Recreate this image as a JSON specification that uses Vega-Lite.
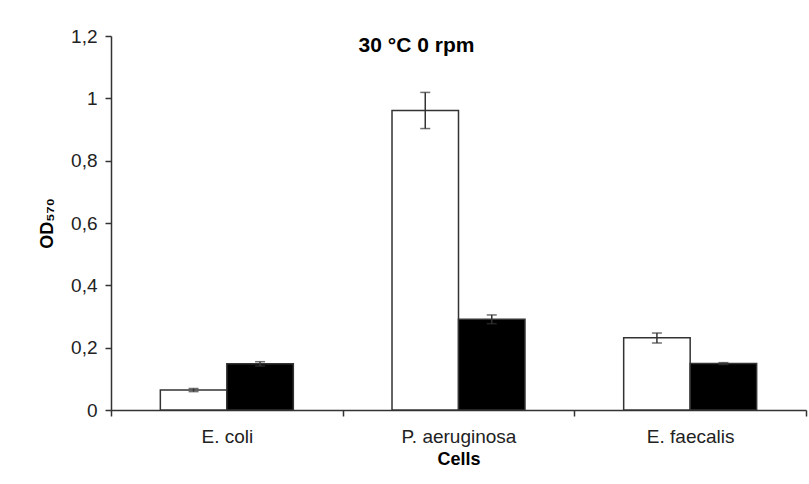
{
  "$schema": "https://vega.github.io/schema/vega-lite/v6.json",
  "width": 695,
  "height": 374,
  "autosize": "none",
  "padding": {"left": 111, "top": 36, "right": 3, "bottom": 74},
  "background": "white",
  "config": {
    "font": "Liberation Sans",
    "view": {"stroke": null}
  },
  "title": {
    "text": "30 °C 0 rpm",
    "font": "Liberation Sans",
    "fontSize": 21,
    "fontWeight": "bold",
    "color": "#000000",
    "anchor": "middle",
    "baseline": "alphabetic",
    "offset": 0,
    "dx": -42,
    "dy": 46
  },
  "data": {
    "values": [
      {"cells": "E. coli", "group": "A", "od": 0.064, "lo": 0.059, "hi": 0.069},
      {"cells": "E. coli", "group": "B", "od": 0.148, "lo": 0.141, "hi": 0.155},
      {"cells": "P. aeruginosa", "group": "A", "od": 0.961, "lo": 0.903, "hi": 1.019},
      {"cells": "P. aeruginosa", "group": "B", "od": 0.291, "lo": 0.277, "hi": 0.305},
      {"cells": "E. faecalis", "group": "A", "od": 0.232, "lo": 0.215, "hi": 0.247},
      {"cells": "E. faecalis", "group": "B", "od": 0.149, "lo": 0.146, "hi": 0.152}
    ]
  },
  "encoding": {
    "x": {
      "field": "cells",
      "type": "nominal",
      "sort": ["E. coli", "P. aeruginosa", "E. faecalis"],
      "scale": {"paddingInner": 0, "paddingOuter": 0},
      "axis": {
        "title": "Cells",
        "titleFontSize": 18,
        "titleFontWeight": "bold",
        "titleColor": "#000000",
        "titlePadding": 4,
        "labelAngle": 0,
        "labelFontSize": 19,
        "labelColor": "#222222",
        "labelPadding": 11,
        "tickBand": "extent",
        "tickSize": 6,
        "tickColor": "#333333",
        "tickWidth": 1.5,
        "domainColor": "#333333",
        "domainWidth": 1.5
      }
    },
    "xOffset": {
      "field": "group",
      "type": "nominal",
      "scale": {"paddingInner": 0, "paddingOuter": 0.742}
    }
  },
  "layer": [
    {
      "mark": {"type": "bar", "stroke": "#333333", "strokeWidth": 1.5},
      "encoding": {
        "y": {
          "field": "od",
          "type": "quantitative",
          "scale": {"domain": [0, 1.2], "nice": false},
          "axis": {
            "title": "OD₅₇₀",
            "titleFontSize": 18,
            "titleFontWeight": "bold",
            "titleColor": "#000000",
            "titlePadding": 14,
            "values": [0, 0.2, 0.4, 0.6, 0.8, 1, 1.2],
            "labelExpr": "replace(toString(datum.value), '.', ',')",
            "labelFontSize": 19,
            "labelColor": "#222222",
            "labelPadding": 8,
            "tickSize": 6,
            "tickColor": "#333333",
            "tickWidth": 1.5,
            "domainColor": "#333333",
            "domainWidth": 1.5,
            "grid": false
          }
        },
        "fill": {
          "field": "group",
          "type": "nominal",
          "scale": {"domain": ["A", "B"], "range": ["#ffffff", "#000000"]},
          "legend": null
        }
      }
    },
    {
      "mark": {"type": "rule", "color": "#333333", "strokeWidth": 1.5},
      "encoding": {
        "y": {"field": "lo", "type": "quantitative"},
        "y2": {"field": "hi"}
      }
    },
    {
      "mark": {"type": "tick", "color": "#333333", "size": 10, "thickness": 1.5},
      "encoding": {
        "y": {"field": "lo", "type": "quantitative"}
      }
    },
    {
      "mark": {"type": "tick", "color": "#333333", "size": 10, "thickness": 1.5},
      "encoding": {
        "y": {"field": "hi", "type": "quantitative"}
      }
    }
  ]
}
